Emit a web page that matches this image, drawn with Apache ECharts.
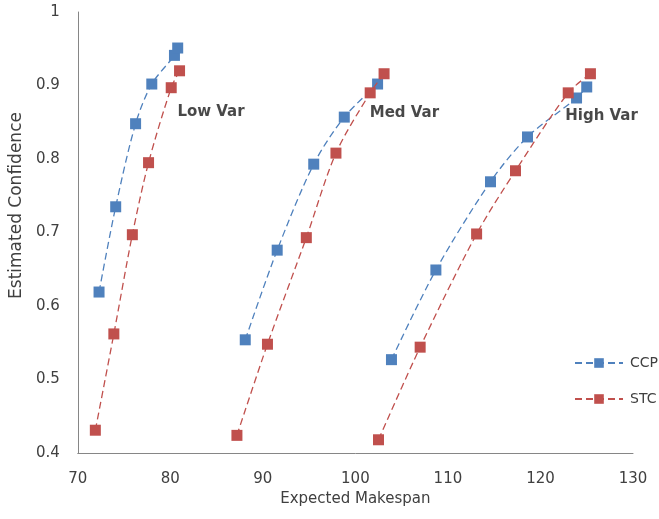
<!DOCTYPE html>
<html>
<head>
<meta charset="utf-8">
<script src="https://cdn.jsdelivr.net/npm/echarts@6/dist/echarts.min.js"></script>
<style>
  html, body { margin: 0; padding: 0; background: #fff; }
  #chart { width: 659px; height: 519px; }
</style>
</head>
<body>
<div id="chart"></div>
<script>
// expected makespan / estimated confidence, per variance group
const ccpLow = [[72.3, 0.619], [74.1, 0.735], [76.25, 0.848], [78.0, 0.902], [80.45, 0.941], [80.8, 0.951]];
const stcLow = [[71.9, 0.431], [73.9, 0.562], [75.9, 0.697], [77.65, 0.795], [80.1, 0.897], [81.0, 0.920]];
const ccpMed = [[88.1, 0.554], [91.55, 0.676], [95.5, 0.793], [98.8, 0.857], [102.4, 0.902]];
const stcMed = [[87.2, 0.424], [90.5, 0.548], [94.7, 0.693], [97.9, 0.808], [101.6, 0.890], [103.1, 0.916]];
const ccpHigh = [[103.9, 0.527], [108.7, 0.649], [114.6, 0.769], [118.6, 0.830], [123.9, 0.883], [125.0, 0.898]];
const stcHigh = [[102.5, 0.418], [107.0, 0.544], [113.1, 0.698], [117.3, 0.784], [123.0, 0.890], [125.4, 0.916]];

const groupLabels = ['Low Var', 'Med Var', 'High Var'];
const labelCoords = [[84.4, 0.864], [105.3, 0.863], [126.6, 0.859]];

const blue = '#4f81bd';
const red = '#c0504d';
const font = 'DejaVu Sans';
const textColor = '#404040';

const chart = echarts.init(document.getElementById('chart'));

function line(name, data, color) {
  return {
    name: name,
    type: 'line',
    data: data,
    smooth: 0.3,
    symbol: 'rect',
    symbolSize: 11,
    itemStyle: { color: color },
    lineStyle: { color: color, width: 1.3, type: [7, 4] },
    z: name === 'STC' ? 3 : 2
  };
}

const series = [
  line('CCP', ccpLow, blue),
  line('STC', stcLow, red),
  line('CCP', ccpMed, blue),
  line('STC', stcMed, red),
  line('CCP', ccpHigh, blue),
  line('STC', stcHigh, red),
  {
    type: 'scatter',
    data: labelCoords.map((c, i) => ({ value: c, name: groupLabels[i] })),
    symbolSize: 0,
    silent: true,
    label: {
      show: true,
      position: 'inside',
      formatter: p => p.name,
      fontFamily: font,
      fontWeight: 'bold',
      fontSize: 15,
      color: '#1a1a1a'
    }
  }
];

chart.setOption({
  animation: false,
  grid: { left: 76, right: 26, top: 12, bottom: 66 },
  legend: {
    data: ['CCP', 'STC'],
    orient: 'vertical',
    right: 1,
    top: 356,
    padding: 0,
    itemWidth: 48,
    itemHeight: 12,
    itemGap: 22,
    textStyle: { fontFamily: font, fontSize: 14, color: textColor, padding: [0, 0, 0, 2] }
  },
  xAxis: {
    type: 'value',
    min: 70,
    max: 130,
    interval: 10,
    name: 'Expected Makespan',
    nameLocation: 'middle',
    nameGap: 38,
    nameTextStyle: { fontFamily: font, fontSize: 15, color: textColor },
    axisLine: { show: true, lineStyle: { color: '#868686', width: 1 } },
    axisTick: { show: false },
    splitLine: { show: false },
    axisLabel: { fontFamily: font, fontSize: 15, color: textColor, margin: 19 }
  },
  yAxis: {
    type: 'value',
    min: 0.4,
    max: 1,
    interval: 0.1,
    name: 'Estimated Confidence',
    nameLocation: 'middle',
    nameGap: 47,
    nameTextStyle: { fontFamily: font, fontSize: 17, color: textColor, padding: [0, 0, 0, 54] },
    axisLine: { show: true, lineStyle: { color: '#868686', width: 1 } },
    axisTick: { show: false },
    splitLine: { show: false },
    axisLabel: {
      fontFamily: font, fontSize: 15, color: textColor, margin: 18,
      formatter: v => String(Math.round(v * 10) / 10)
    }
  },
  series: series
});
</script>
</body>
</html>
